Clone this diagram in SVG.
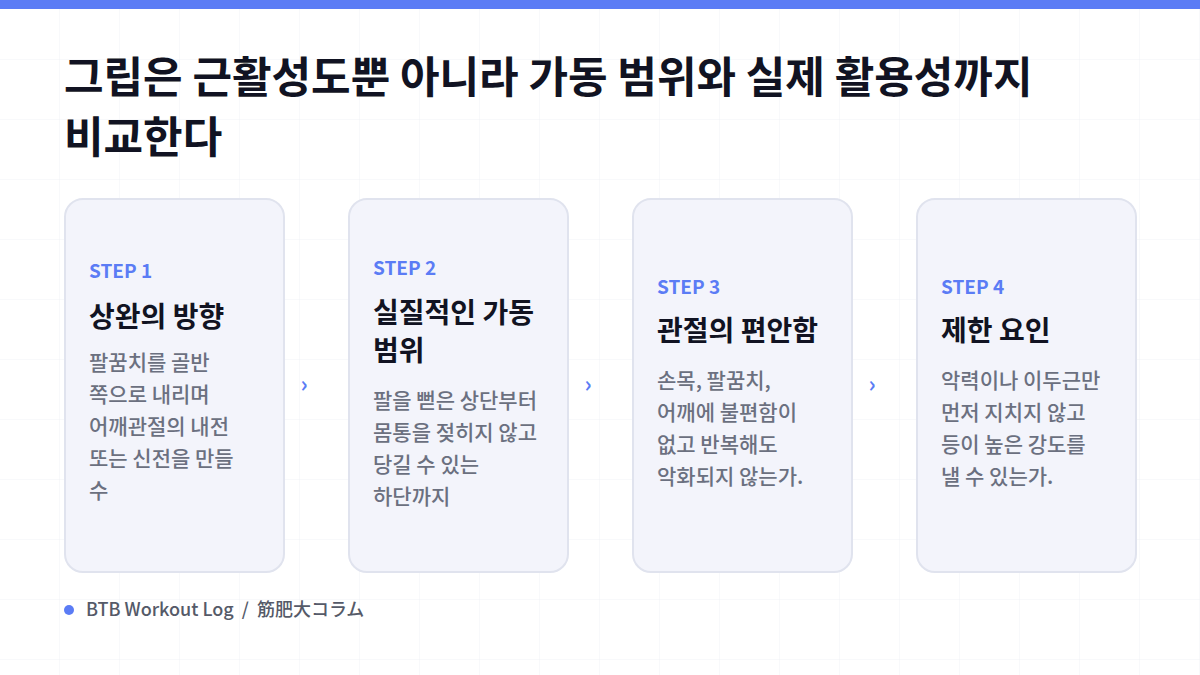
<svg xmlns="http://www.w3.org/2000/svg" width="1200" height="675" viewBox="0 0 1200 675">
<defs>
<pattern id="grid" width="60" height="60" patternUnits="userSpaceOnUse"><path d="M60 0V60H0" fill="none" stroke="#f1f2f6" stroke-width="1"/></pattern>
<style>
text{font-family:"Noto Sans CJK KR","Noto Sans",sans-serif}
.card{fill:#f3f4fb;stroke:#e0e3ee;stroke-width:2}
.step{font-size:19px;font-weight:700;fill:#5b7cf5}
.ttl{font-size:28px;font-weight:700;fill:#111322}
.body{font-size:21px;font-weight:500;fill:#6b7080}
.arr{font-size:22px;font-weight:700;fill:#5b7cf5;text-anchor:middle}
</style>
</defs>
<rect width="1200" height="675" fill="#fff"/>
<rect width="1200" height="675" fill="url(#grid)"/>
<rect width="1200" height="9" fill="#5b7cf5"/>
<text x="64" y="93" font-size="43" font-weight="700" fill="#111322">그립은 근활성도뿐 아니라 가동 범위와 실제 활용성까지</text>
<text x="64" y="153" font-size="43" font-weight="700" fill="#111322">비교한다</text>
<g id="card1"><rect class="card" x="65" y="199" width="219" height="373" rx="18"/>
<text class="step" x="89" y="278">STEP 1</text>
<text class="ttl" x="89" y="327">상완의 방향</text>
<text class="body"><tspan x="89" y="370">팔꿈치를 골반</tspan><tspan x="89" y="402">쪽으로 내리며</tspan><tspan x="89" y="434">어깨관절의 내전</tspan><tspan x="89" y="466">또는 신전을 만들</tspan><tspan x="89" y="498">수</tspan></text></g>
<g id="card2"><rect class="card" x="349" y="199" width="219" height="373" rx="18"/>
<text class="step" x="373" y="275">STEP 2</text>
<text class="ttl"><tspan x="373" y="323">실질적인 가동</tspan><tspan x="373" y="361">범위</tspan></text>
<text class="body"><tspan x="373" y="408">팔을 뻗은 상단부터</tspan><tspan x="373" y="440">몸통을 젖히지 않고</tspan><tspan x="373" y="472">당길 수 있는</tspan><tspan x="373" y="504">하단까지</tspan></text></g>
<g id="card3"><rect class="card" x="633" y="199" width="219" height="373" rx="18"/>
<text class="step" x="657" y="294">STEP 3</text>
<text class="ttl" x="657" y="341">관절의 편안함</text>
<text class="body"><tspan x="657" y="388">손목, 팔꿈치,</tspan><tspan x="657" y="420">어깨에 불편함이</tspan><tspan x="657" y="452">없고 반복해도</tspan><tspan x="657" y="484">악화되지 않는가.</tspan></text></g>
<g id="card4"><rect class="card" x="917" y="199" width="219" height="373" rx="18"/>
<text class="step" x="941" y="294">STEP 4</text>
<text class="ttl" x="941" y="341">제한 요인</text>
<text class="body"><tspan x="941" y="388">악력이나 이두근만</tspan><tspan x="941" y="420">먼저 지치지 않고</tspan><tspan x="941" y="452">등이 높은 강도를</tspan><tspan x="941" y="484">낼 수 있는가.</tspan></text></g>
<g id="connectors">
<text class="arr" x="304" y="392">›</text>
<text class="arr" x="588" y="392">›</text>
<text class="arr" x="872" y="392">›</text>
</g>
<circle cx="69" cy="610" r="5" fill="#5b7cf5"/>
<text x="86" y="616" font-size="18" font-weight="500" fill="#555a68" font-family="'Noto Sans CJK JP','Noto Sans',sans-serif" xml:space="preserve">BTB Workout Log  /  筋肥大コラム</text>
</svg>
